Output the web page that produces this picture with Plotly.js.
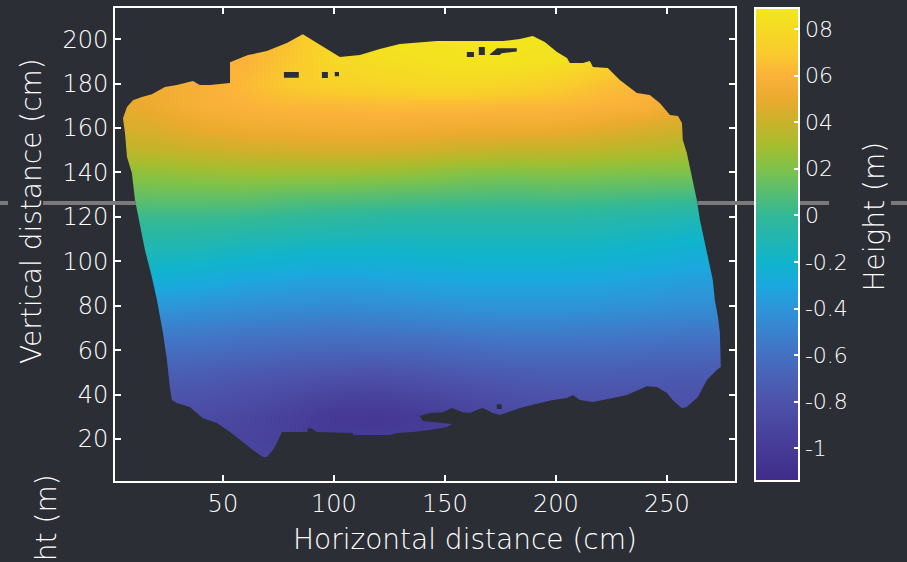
<!DOCTYPE html>
<html>
<head>
<meta charset="utf-8">
<script src="https://cdn.plot.ly/plotly-3.0.1.min.js"></script>
<style>
  html, body { margin: 0; padding: 0; background: #2c2e35; }
  #chart { width: 907px; height: 562px; }
</style>
</head>
<body>
<div id="chart"></div>
<script>
// Surface height map (m) on a 20 cm x 10 cm grid
const xCm = [0, 20, 40, 60, 80, 100, 120, 140, 160, 180, 200, 220, 240, 260, 280];
const yCm = [10, 20, 30, 40, 50, 60, 70, 80, 90, 100, 110, 120, 130, 140, 150, 160, 170, 180, 190, 200, 210];
const heightM = [
  [-0.86, -0.88, -0.90, -0.90, -0.92, -0.95, -0.96, -0.95, -0.92, -0.90, -0.88, -0.86, -0.86, -0.86, -0.86],
  [-0.86, -0.88, -0.90, -0.92, -0.96, -1.00, -1.00, -0.98, -0.94, -0.90, -0.88, -0.86, -0.86, -0.86, -0.86],
  [-0.84, -0.85, -0.86, -0.90, -0.95, -1.02, -1.03, -1.00, -0.94, -0.88, -0.85, -0.84, -0.84, -0.84, -0.84],
  [-0.78, -0.79, -0.80, -0.83, -0.87, -0.92, -0.93, -0.90, -0.86, -0.82, -0.80, -0.80, -0.80, -0.80, -0.80],
  [-0.70, -0.71, -0.72, -0.75, -0.77, -0.79, -0.80, -0.78, -0.75, -0.73, -0.72, -0.72, -0.73, -0.74, -0.74],
  [-0.60, -0.61, -0.62, -0.64, -0.66, -0.67, -0.67, -0.66, -0.64, -0.62, -0.62, -0.62, -0.63, -0.64, -0.64],
  [-0.50, -0.51, -0.52, -0.54, -0.55, -0.56, -0.55, -0.54, -0.52, -0.51, -0.51, -0.52, -0.53, -0.54, -0.54],
  [-0.38, -0.39, -0.41, -0.43, -0.44, -0.45, -0.44, -0.43, -0.41, -0.40, -0.40, -0.41, -0.42, -0.44, -0.44],
  [-0.26, -0.27, -0.29, -0.32, -0.34, -0.35, -0.34, -0.32, -0.31, -0.31, -0.31, -0.32, -0.34, -0.36, -0.36],
  [-0.15, -0.16, -0.18, -0.21, -0.23, -0.24, -0.24, -0.23, -0.22, -0.22, -0.22, -0.23, -0.25, -0.28, -0.28],
  [-0.07, -0.07, -0.08, -0.10, -0.12, -0.13, -0.14, -0.14, -0.14, -0.14, -0.14, -0.15, -0.17, -0.20, -0.20],
  [ 0.02,  0.02,  0.02,  0.01, -0.01, -0.03, -0.04, -0.05, -0.05, -0.05, -0.05, -0.06, -0.08, -0.10, -0.10],
  [ 0.13,  0.14,  0.14,  0.14,  0.12,  0.11,  0.10,  0.09,  0.08,  0.07,  0.08,  0.07,  0.06,  0.05,  0.04],
  [ 0.24,  0.25,  0.27,  0.28,  0.28,  0.28,  0.27,  0.25,  0.22,  0.21,  0.22,  0.21,  0.20,  0.20,  0.18],
  [ 0.36,  0.38,  0.40,  0.42,  0.43,  0.44,  0.44,  0.42,  0.40,  0.38,  0.38,  0.36,  0.34,  0.32,  0.30],
  [ 0.44,  0.46,  0.50,  0.53,  0.54,  0.55,  0.55,  0.54,  0.53,  0.53,  0.52,  0.49,  0.45,  0.42,  0.40],
  [ 0.48,  0.52,  0.58,  0.60,  0.62,  0.62,  0.63,  0.63,  0.63,  0.62,  0.62,  0.60,  0.58,  0.50,  0.48],
  [ 0.52,  0.54,  0.58,  0.63,  0.70,  0.74,  0.76,  0.78,  0.78,  0.76,  0.72,  0.66,  0.62,  0.60,  0.60],
  [ 0.55,  0.56,  0.58,  0.60,  0.68,  0.78,  0.82,  0.84,  0.86,  0.86,  0.84,  0.78,  0.70,  0.66,  0.66],
  [ 0.58,  0.58,  0.60,  0.62,  0.66,  0.80,  0.85,  0.86,  0.87,  0.87,  0.86,  0.82,  0.74,  0.70,  0.70],
  [ 0.60,  0.60,  0.62,  0.62,  0.66,  0.80,  0.85,  0.86,  0.87,  0.87,  0.86,  0.82,  0.75,  0.70,  0.70]
];

// Outline of the scanned area (cm), clockwise from the left edge
const outlineX = [5.0, 6.8, 9.5, 13.5, 18.0, 23.9, 29.3, 34.2, 36.5, 39.6, 44.1, 53.2, 53.2, 61.3, 69.8, 78.8,
  86.0, 93.7, 102.7, 111.7, 120.7, 129.7, 146.4, 161.3, 176.1, 183.8, 189.6, 195.0, 200.5, 205.0, 206.3, 212.2,
  215.3, 216.7, 223.4, 228.8, 236.5, 242.3, 246.8, 251.4, 255.0, 256.8, 257.2, 259.0, 260.4, 261.7, 263.5, 264.9,
  266.2, 268.0, 269.4, 270.7, 271.6, 273.0, 273.9, 274.3, 272.5, 268.0, 264.0, 259.0, 256.8, 252.7, 250.0, 245.5,
  241.0, 234.7, 232.0, 225.7, 216.7, 210.8, 207.7, 205.0, 198.7, 192.8, 183.8, 174.8, 171.6, 167.1, 164.4, 161.3,
  158.1, 153.2, 149.1, 143.2, 138.7, 140.1, 146.4, 153.2, 150.9, 143.2, 135.6, 128.4, 125.2, 108.6, 108.6, 92.3,
  90.5, 88.3, 88.0, 76.6, 74.3, 72.5, 69.8, 68.0, 63.5, 57.7, 53.2, 47.3, 41.0, 35.1, 29.3, 27.0,
  26.1, 24.8, 23.0, 20.3, 18.0, 14.9, 12.6, 10.4, 9.0, 6.8, 5.9];
const outlineY = [164.4, 169.4, 172.5, 173.9, 175.2, 178.4, 179.3, 180.6, 181.1, 179.3, 179.3, 180.2, 189.6, 192.8, 194.6, 198.2,
  202.2, 197.3, 191.9, 192.8, 195.5, 197.8, 199.1, 199.1, 199.1, 200.0, 201.4, 198.7, 194.2, 191.5, 189.2, 189.2,
  190.1, 187.4, 187.0, 181.6, 175.7, 174.8, 171.2, 165.8, 165.4, 162.2, 154.6, 148.7, 142.4, 136.6, 127.6, 118.6,
  112.7, 105.1, 97.4, 91.6, 82.6, 74.9, 67.7, 52.4, 51.1, 46.6, 38.9, 34.4, 33.9, 37.5, 40.7, 43.4,
  43.8, 41.2, 39.8, 38.5, 36.7, 37.6, 39.8, 38.5, 37.6, 36.2, 34.0, 30.8, 31.7, 34.0, 33.1, 31.7,
  32.1, 34.0, 32.1, 31.7, 30.4, 28.1, 27.6, 26.8, 25.4, 24.1, 23.2, 22.7, 21.8, 21.8, 22.7, 23.2,
  24.5, 24.9, 23.2, 23.2, 18.2, 15.1, 11.9, 11.9, 15.1, 19.6, 23.2, 27.2, 29.4, 34.4, 36.2, 37.6,
  43.4, 55.6, 67.7, 82.6, 92.9, 105.1, 117.2, 127.6, 139.7, 146.9, 157.7];

// Unmeasured patches inside the scanned area (cm), separated by null
const holeX = [77.5, 84.2, 84.2, 77.5, null, 94.6, 97.3, 97.3, 94.6, null, 100.4, 102.3, 102.3, 100.4, null,
  159.9, 163.1, 163.1, 159.9, null, 165.3, 168.0, 168.0, 165.3, null,
  170.3, 173.5, 182.4, 182.4, 175.6, 174.7, 170.3, null, 173.4, 175.6, 175.6, 173.4];
const holeY = [182.6, 182.6, 185.2, 185.2, null, 182.5, 182.5, 185.2, 185.2, null, 183.3, 183.3, 185.2, 185.2, null,
  191.9, 191.9, 194.2, 194.2, null, 192.8, 192.8, 196.4, 196.4, null,
  193.2, 195.9, 195.9, 194.4, 193.6, 192.8, 192.8, null, 33.5, 33.5, 35.6, 35.6];

const xTicks = [50, 100, 150, 200, 250];
const yTicks = [20, 40, 60, 80, 100, 120, 140, 160, 180, 200];
const cbTickVals = [-1, -0.8, -0.6, -0.4, -0.2, 0, 0.2, 0.4, 0.6, 0.8];
const cbTickText = ['-1', '-0.8', '-0.6', '-0.4', '-0.2', '0', '02', '04', '06', '08'];

const BG = '#2c2e35';
const FONT = 'DejaVu Sans, sans-serif';
const TXT = '#ffffff';
const zMin = -1.14, zMax = 0.89;

// parula-like scale anchored on height values
const scaleStops = [
  [-1.14, '#3e2c88'], [-1.0, '#463b97'], [-0.8, '#4d52aa'], [-0.6, '#4570c2'],
  [-0.4, '#2e95d9'], [-0.3, '#1ba8de'], [-0.2, '#10b4cc'], [0.0, '#32b896'],
  [0.2, '#7ec24a'], [0.3, '#a6bd2e'], [0.4, '#c9b22a'], [0.5, '#eaaa2e'],
  [0.6, '#fbb23a'], [0.7, '#f9cb2c'], [0.89, '#f2e81c']
];
const colorscale = scaleStops.map(s => [(s[0] - zMin) / (zMax - zMin), s[1]]);

// Background-coloured frame with the scanned outline cut out of it
const peakIdx = outlineY.indexOf(Math.max(...outlineY));
const ringX = outlineX.slice(peakIdx).concat(outlineX.slice(0, peakIdx + 1));
const ringY = outlineY.slice(peakIdx).concat(outlineY.slice(0, peakIdx + 1));
const maskX = [outlineX[peakIdx], -30, -30, 310, 310, outlineX[peakIdx]].concat(ringX);
const maskY = [240, 240, -30, -30, 240, 240].concat(ringY);

const lightFont = (size) => ({ family: FONT, size: size, color: TXT, weight: 200 });

const traces = [
  {
    type: 'heatmap', x: xCm, y: yCm, z: heightM,
    zmin: zMin, zmax: zMax, zsmooth: 'best', colorscale: colorscale,
    hoverinfo: 'skip',
    colorbar: {
      x: 1.0323, xanchor: 'left', xpad: 0, y: 0.5, yanchor: 'middle', ypad: 0,
      len: 1, lenmode: 'fraction', thickness: 44, thicknessmode: 'pixels',
      outlinewidth: 2, outlinecolor: '#ffffff',
      tickmode: 'array', tickvals: cbTickVals, ticktext: cbTickText,
      ticks: 'inside', ticklen: 6, tickwidth: 2, tickcolor: '#ffffff',
      tickfont: lightFont(22)
    }
  },
  {
    type: 'scatter', mode: 'lines', x: maskX, y: maskY, fill: 'toself',
    fillcolor: BG, line: { width: 0, color: BG }, hoverinfo: 'skip', showlegend: false
  },
  {
    type: 'scatter', mode: 'lines', x: holeX, y: holeY, fill: 'toself',
    fillcolor: BG, line: { width: 0, color: BG }, hoverinfo: 'skip', showlegend: false
  }
];

const grey = { color: '#7a7a7a', width: 4 };
const lineY = 0.5877;
const segs = [[-0.1855, -0.1726], [-0.1161, 0.0339], [0.9395, 1.0323], [1.1032, 1.1516], [1.2516, 1.2774]];
const shapes = segs.map(s => ({
  type: 'line', xref: 'paper', yref: 'paper', x0: s[0], x1: s[1], y0: lineY, y1: lineY,
  line: grey, layer: 'above'
}));

const axisCommon = {
  showgrid: false, zeroline: false, showline: true, linecolor: '#ffffff', linewidth: 2,
  mirror: 'ticks', ticks: 'inside', ticklen: 6, tickwidth: 2, tickcolor: '#ffffff',
  tickfont: lightFont(24), fixedrange: true
};

const layout = {
  width: 907, height: 562,
  margin: { l: 115, r: 172, t: 8, b: 81 },
  paper_bgcolor: BG, plot_bgcolor: BG,
  font: { family: FONT, color: TXT },
  showlegend: false,
  xaxis: Object.assign({}, axisCommon, { range: [1.4, 280.7], tickmode: 'array', tickvals: xTicks }),
  yaxis: Object.assign({}, axisCommon, { range: [1.1, 214.0], tickmode: 'array', tickvals: yTicks }),
  shapes: shapes,
  annotations: [
    { text: 'Horizontal distance (cm)', xref: 'paper', yref: 'paper', x: 0.5645, y: -0.1247,
      xanchor: 'center', yanchor: 'middle', showarrow: false, font: lightFont(28) },
    { text: 'Vertical distance (cm)', xref: 'paper', yref: 'paper', x: -0.1355, y: 0.5708,
      xanchor: 'center', yanchor: 'middle', showarrow: false, textangle: -90, font: lightFont(28) },
    { text: 'Height (m)', xref: 'paper', yref: 'paper', x: 1.2258, y: 0.5592,
      xanchor: 'center', yanchor: 'middle', showarrow: false, textangle: -90, font: lightFont(28) },
    { text: 'Height (m)', xref: 'paper', yref: 'paper', x: -0.1113, y: -0.1438,
      xanchor: 'center', yanchor: 'middle', showarrow: false, textangle: -90, font: lightFont(28) }
  ]
};

Plotly.newPlot('chart', traces, layout, { displayModeBar: false, staticPlot: true });
</script>
</body>
</html>
